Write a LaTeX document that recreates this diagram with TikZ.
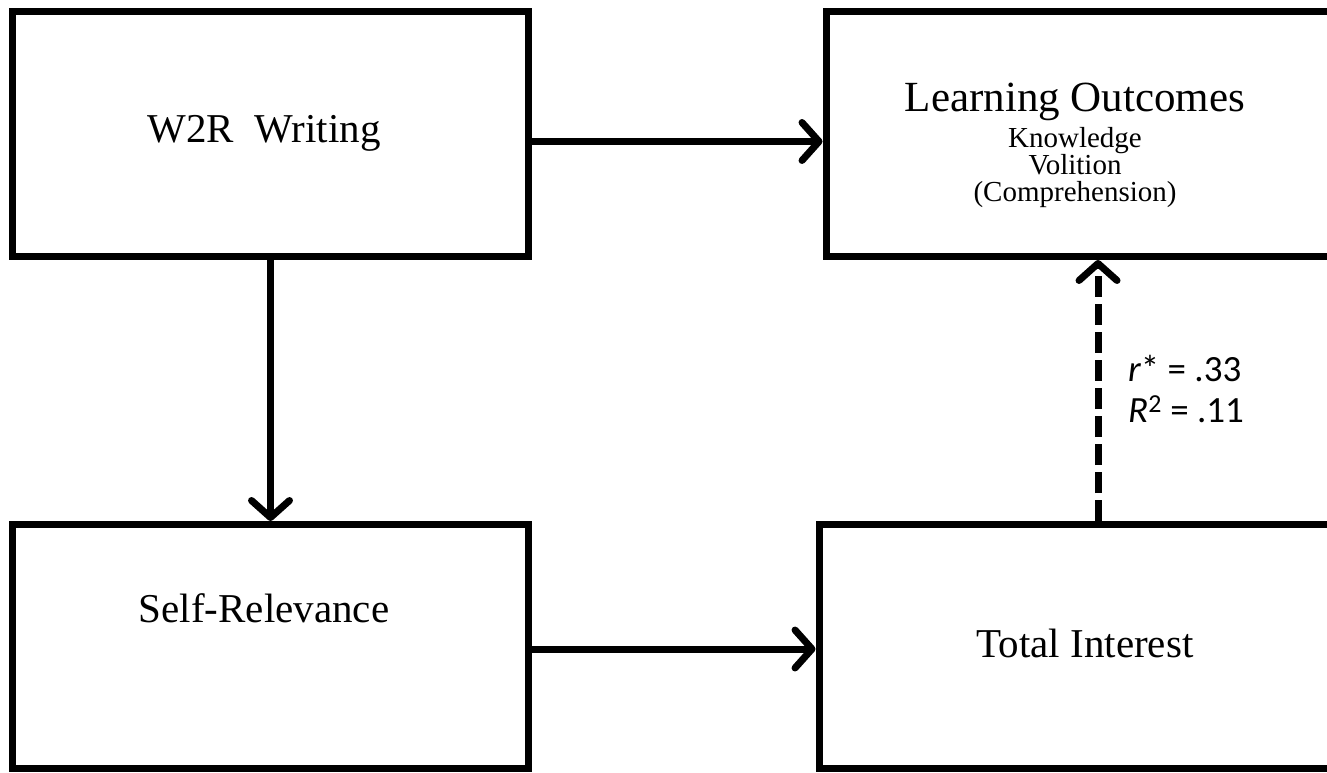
\documentclass[tikz,border=0pt]{standalone}
\usepackage{fontspec}
\setmainfont{Liberation Serif}
\newfontfamily\numfont{Carlito}
\usetikzlibrary{arrows.meta}

\begin{document}
\begin{tikzpicture}[x=1pt,y=1pt]
        \tikzset{box/.style={draw, line width=7pt, minimum width=516pt, minimum height=245pt, inner sep=0pt},
            big/.style={font=\fontsize{41}{45}\selectfont, anchor=base, inner sep=0pt},
            stat/.style={font=\numfont\fontsize{37}{40}\selectfont, anchor=base west, inner sep=0pt},
            conn/.style={line width=7pt, -{Straight Barb[length=17pt,width=38pt,round]}}}
        \useasboundingbox (0,0) rectangle (1327,772);
        % boxes
        \node[box] (wr) at (270.5,637.5) {};
        \node[box, minimum width=506pt] (lo) at (1079,638) {};
        \node[box, minimum height=244pt] (sr) at (270.5,125.5) {};
        \node[box, minimum width=513pt, minimum height=244pt] (ti) at (1075.5,125.5) {};
        % texts
        \node[big, font=\fontsize{43}{45}\selectfont] (lotext) at (1075,660) {Learning Outcomes};
        \node[anchor=north, inner sep=0pt, align=center, font=\fontsize{29}{27}\selectfont]
            (lolist) at (1075,645) {Knowledge\\Volition\\(Comprehension)};
        \node[big] (wrtext) at (264,629) {W2R\ \ Writing};
        \node[big] (srtext) at (264,150) {Self-Relevance};
        \node[big] (titext) at (1085,115) {Total Interest};
        \node[stat] (rval) at (1128,390) {{\itshape r}* = .33};
        \node[stat] (rsq) at (1128,350) {{\itshape R}\textsuperscript{2} = .11};
        % paths
        \draw[conn] ([yshift=-7pt]wr.east) -- ([yshift=-7pt]wr.east -| lo.west);
        \draw[conn] (wr.south) -- (sr.north);
        \draw[conn] ([yshift=-2.5pt]sr.east) -- ([yshift=-2.5pt]sr.east -| ti.west);
        \draw[conn, dash pattern=on 21pt off 7pt] ([xshift=22.5pt]ti.north) -- ([xshift=22.5pt]ti.north |- lo.south);
\end{tikzpicture}
\end{document}
